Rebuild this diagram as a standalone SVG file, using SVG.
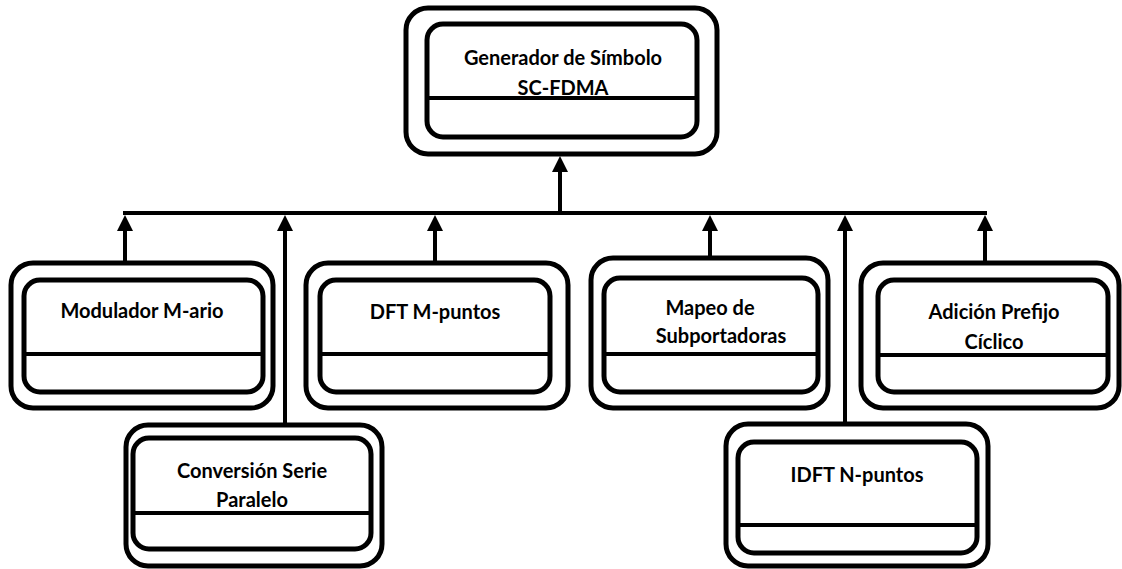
<svg xmlns="http://www.w3.org/2000/svg" width="1122" height="569" viewBox="0 0 1122 569">
  <style>
    .outer { fill: #ffffff; stroke: #000000; stroke-width: 5; }
    .inner { fill: #ffffff; stroke: #000000; stroke-width: 5; }
    .div { stroke: #000000; stroke-width: 4; }
    .lbl { font-family: Lato, "Open Sans", "Liberation Sans", sans-serif; font-weight: 700; font-size: 20px; fill: #000000; text-anchor: middle; }
    .wire { fill: none; stroke: #000000; stroke-width: 4; }
  </style>
  <defs>
    <marker id="head" viewBox="0 0 16 16" refX="4" refY="8" markerWidth="16" markerHeight="16" markerUnits="userSpaceOnUse" orient="auto">
      <path d="M0,0 L16,8 L0,16 z" fill="#000000"/>
    </marker>
  </defs>

  <rect width="1122" height="569" fill="#ffffff"/>

  <!-- connectors: shared bus and upward arrows -->
  <g id="connectors">
    <line class="wire" x1="123" y1="213" x2="987" y2="213"/>
    <line class="wire" x1="560" y1="213" x2="560" y2="168" marker-end="url(#head)"/>
    <line class="wire" x1="125" y1="263" x2="125" y2="227" marker-end="url(#head)"/>
    <line class="wire" x1="285" y1="425" x2="285" y2="227" marker-end="url(#head)"/>
    <line class="wire" x1="435" y1="263" x2="435" y2="227" marker-end="url(#head)"/>
    <line class="wire" x1="710" y1="258" x2="710" y2="227" marker-end="url(#head)"/>
    <line class="wire" x1="845" y1="424" x2="845" y2="227" marker-end="url(#head)"/>
    <line class="wire" x1="985" y1="263" x2="985" y2="227" marker-end="url(#head)"/>
  </g>

  <!-- root block -->
  <g id="generador">
    <rect class="outer" x="406" y="8" width="311" height="146" rx="22"/>
    <rect class="inner" x="427" y="24" width="270" height="113" rx="16"/>
    <line class="div" x1="427" y1="98" x2="697" y2="98"/>
    <text class="lbl" x="563" y="65">Generador de Símbolo</text>
    <text class="lbl" x="563" y="95">SC-FDMA</text>
  </g>

  <g id="modulador">
    <rect class="outer" x="11" y="263" width="262" height="145" rx="22"/>
    <rect class="inner" x="24" y="280" width="239" height="112" rx="16"/>
    <line class="div" x1="24" y1="354" x2="263" y2="354"/>
    <text class="lbl" x="142" y="318">Modulador M-ario</text>
  </g>

  <g id="conversion">
    <rect class="outer" x="126" y="425" width="256" height="141" rx="22"/>
    <rect class="inner" x="133" y="438" width="238" height="111" rx="16"/>
    <line class="div" x1="133" y1="513" x2="371" y2="513"/>
    <text class="lbl" x="252" y="478">Conversión Serie</text>
    <text class="lbl" x="252" y="507">Paralelo</text>
  </g>

  <g id="dft">
    <rect class="outer" x="306" y="263" width="262" height="145" rx="22"/>
    <rect class="inner" x="320" y="280" width="230" height="112" rx="16"/>
    <line class="div" x1="320" y1="354" x2="550" y2="354"/>
    <text class="lbl" x="435" y="319">DFT M-puntos</text>
  </g>

  <g id="mapeo">
    <rect class="outer" x="591" y="258" width="237" height="150" rx="22"/>
    <rect class="inner" x="604" y="278" width="214" height="114" rx="16"/>
    <line class="div" x1="604" y1="354" x2="818" y2="354"/>
    <text class="lbl" x="710" y="315">Mapeo de</text>
    <text class="lbl" x="721" y="343">Subportadoras</text>
  </g>

  <g id="idft">
    <rect class="outer" x="726" y="424" width="262" height="142" rx="22"/>
    <rect class="inner" x="738" y="442" width="239" height="111" rx="16"/>
    <line class="div" x1="738" y1="525" x2="977" y2="525"/>
    <text class="lbl" x="857" y="482">IDFT N-puntos</text>
  </g>

  <g id="adicion">
    <rect class="outer" x="861" y="263" width="258" height="145" rx="22"/>
    <rect class="inner" x="878" y="280" width="230" height="112" rx="16"/>
    <line class="div" x1="878" y1="355" x2="1108" y2="355"/>
    <text class="lbl" x="994" y="319">Adición Prefijo</text>
    <text class="lbl" x="994" y="349">Cíclico</text>
  </g>
</svg>
